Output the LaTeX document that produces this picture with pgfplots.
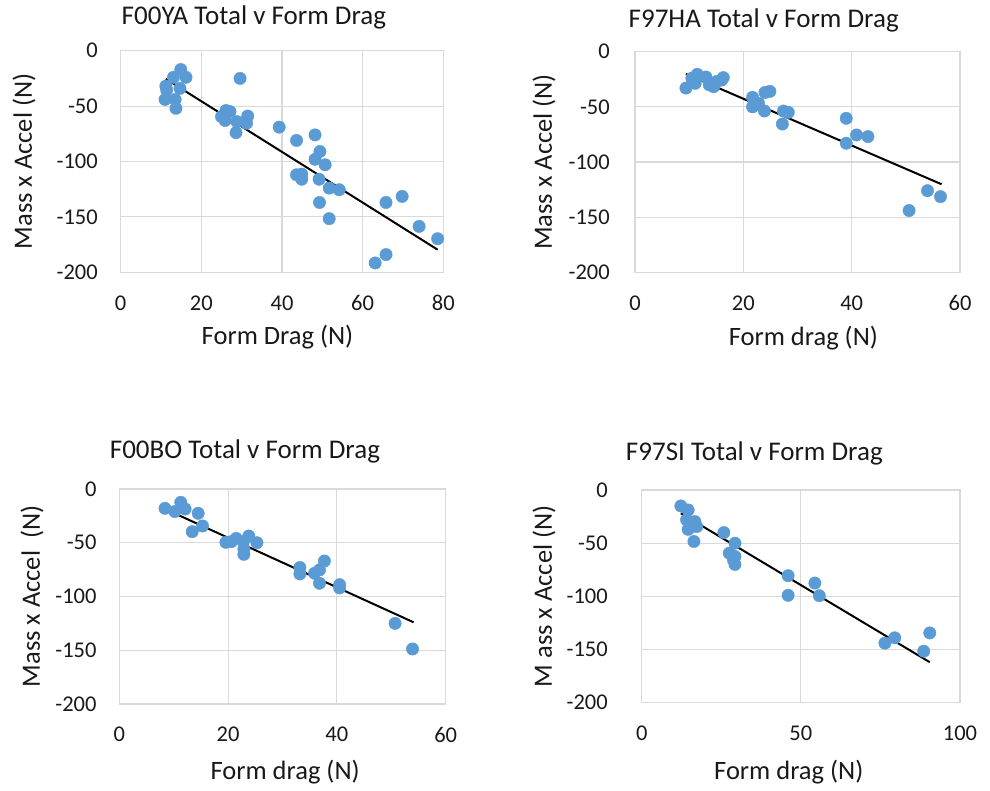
\documentclass[border=0pt]{standalone}
\usepackage{fontspec}
\setmainfont{Carlito}
\usepackage{pgfplots}
\pgfplotsset{compat=1.18}
\definecolor{ptblue}{HTML}{5B9BD5}
\definecolor{gridgray}{HTML}{D9D9D9}
\pgfplotsset{
  myax/.style={
    scale only axis,
    anchor=south west,
    clip=false,
    ymin=-200, ymax=0,
    ytick={-200,-150,-100,-50,0},
    yticklabels={-200,-150,-100,-50,0},
    major tick length=0pt,
    grid=major,
    grid style={draw=gridgray, line width=1.1pt},
    axis line style={draw=gridgray, line width=1.1pt},
    tick label style={font=\fontsize{22.5}{24}\selectfont, text=black!90},
    yticklabel style={inner sep=0pt, anchor=east},
    xticklabel style={inner sep=0pt, anchor=north, yshift=-23pt},
    label style={font=\fontsize{26.5}{28}\selectfont, text=black!90},
    title style={font=\fontsize{27}{30}\selectfont, text=black!90, anchor=base, inner sep=0pt},
    xlabel style={anchor=base, inner sep=0pt},
    ylabel style={anchor=base, inner sep=0pt, rotate=0},
  },
  dots/.style={only marks, mark=*, mark size=6.2pt, color=ptblue, mark options={draw=ptblue, fill=ptblue}},
  trend/.style={black, line width=2pt, no marks},
}
\begin{document}
\begin{tikzpicture}
\useasboundingbox (0,0) rectangle (990pt,791pt);

% Panel 1
\begin{axis}[myax,
  at={(120.7pt,518.7pt)}, width=322.6pt, height=221.6pt,
  xmin=0, xmax=80, xtick={0,20,40,60,80}, xticklabels={0,20,40,60,80},
  title={F00YA Total v Form Drag},
  title style={at={(axis description cs:0.413,1)}, yshift=20pt},
  xlabel={Form Drag (N)},
  xlabel style={at={(axis description cs:0.486,-0.328)}},
  ylabel={Mass x Accel (N)},
  ylabel style={at={(axis description cs:-0.275,0.5)}},
  yticklabel style={xshift=-22.7pt},
]
\addplot[dots] coordinates {
(14.9,-17) (16.2,-24) (13.1,-24) (11.2,-32) (11.4,-35.4) (14.7,-34)
(11.0,-44) (13.5,-44) (13.7,-52) (29.6,-25) (26.1,-54) (27.1,-55)
(25.0,-59.5) (25.9,-63) (28.8,-64) (31.5,-59) (31.2,-65.5) (28.6,-74)
(39.3,-69) (43.6,-81) (48.2,-76) (49.4,-91) (48.2,-98) (50.7,-103)
(43.6,-112) (44.9,-111.4) (44.9,-116) (49.2,-116) (51.7,-124) (54.2,-125.5)
(49.3,-137) (51.7,-151.6) (65.8,-137) (69.8,-131.5) (74.0,-158.6) (78.6,-169.7)
(65.8,-184) (63.1,-191.6)
};
\addplot[trend] coordinates {(11.2,-25.5) (78.6,-179.6)};
\end{axis}

% Panel 2
\begin{axis}[myax,
  at={(635pt,518.7pt)}, width=325pt, height=220.6pt,
  xmin=0, xmax=60, xtick={0,20,40,60}, xticklabels={0,20,40,60},
  title={F97HA Total v Form Drag},
  title style={at={(axis description cs:0.396,1)}, yshift=18.4pt},
  xlabel={Form drag (N)},
  xlabel style={at={(axis description cs:0.518,-0.334)}},
  ylabel={Mass x Accel (N)},
  ylabel style={at={(axis description cs:-0.256,0.5)}},
  yticklabel style={xshift=-25pt},
]
\addplot[dots] coordinates {
(9.4,-33) (10.5,-24) (11.1,-28.7) (11.5,-20.5) (13.1,-23) (13.7,-30)
(14.5,-31.7) (15.1,-27) (16.0,-25.7) (16.3,-23.5) (21.7,-41.4) (21.7,-50)
(22.8,-46.8) (23.9,-53.8) (24.0,-37) (24.9,-36) (27.4,-53.8) (28.3,-55)
(27.2,-65.6) (39.0,-60.4) (39.0,-83) (40.9,-75.5) (43.0,-77) (54.0,-126)
(56.4,-131.4) (50.6,-144)
};
\addplot[trend] coordinates {(9.4,-20.2) (56.6,-120.2)};
\end{axis}

% Panel 3
\begin{axis}[myax,
  at={(119.3pt,87pt)}, width=326.4pt, height=215pt,
  xmin=0, xmax=60, xtick={0,20,40,60}, xticklabels={0,20,40,60},
  title={F00BO Total v Form Drag},
  title style={at={(axis description cs:0.385,1)}, yshift=24pt},
  xlabel={Form drag (N)},
  xlabel style={at={(axis description cs:0.508,-0.353)}},
  ylabel={Mass x Accel~ (N)},
  ylabel style={at={(axis description cs:-0.243,0.5)}},
  yticklabel style={xshift=-22.6pt},
]
\addplot[dots] coordinates {
(8.4,-18) (10.2,-21) (11.3,-12.4) (12.1,-18.6) (14.5,-22.6) (15.3,-34.4)
(13.4,-39.7) (19.6,-49.6) (20.6,-49) (21.5,-46) (22.8,-49) (23.8,-43.7)
(22.9,-55.8) (22.9,-60.8) (25.3,-50) (33.2,-73) (33.2,-79) (35.9,-78.4)
(36.8,-75.3) (36.8,-87.7) (37.7,-67) (40.5,-89) (40.5,-92) (50.7,-125)
(53.9,-148.8)
};
\addplot[trend] coordinates {(8.4,-18.6) (54.1,-124)};
\end{axis}

% Panel 4
\begin{axis}[myax,
  at={(641.7pt,88.3pt)}, width=318.3pt, height=212.7pt,
  xmin=0, xmax=100, xtick={0,50,100}, xticklabels={0,50,100},
  title={F97SI Total v Form Drag},
  title style={at={(axis description cs:0.354,1)}, yshift=23.3pt},
  xlabel={Form drag (N)},
  xlabel style={at={(axis description cs:0.462,-0.363)}},
  ylabel={M ass x Accel (N)},
  ylabel style={at={(axis description cs:-0.282,0.5)}},
  yticklabel style={xshift=-33.7pt},
]
\addplot[dots] coordinates {
(12.3,-15) (14.6,-18.8) (14.1,-28) (16.7,-29.7) (14.6,-37) (17.3,-34.4)
(16.4,-48.4) (25.8,-40) (29.3,-50) (27.5,-59.4) (29.3,-62.5) (29.3,-70)
(28.8,-65.6) (46.0,-80.6) (46.0,-99) (54.4,-87.5) (55.8,-99.4) (76.4,-144)
(79.5,-139) (90.5,-134.4) (88.6,-151.6)
};
\addplot[trend] coordinates {(12.3,-21.9) (90.5,-161.9)};
\end{axis}
\end{tikzpicture}
\end{document}
